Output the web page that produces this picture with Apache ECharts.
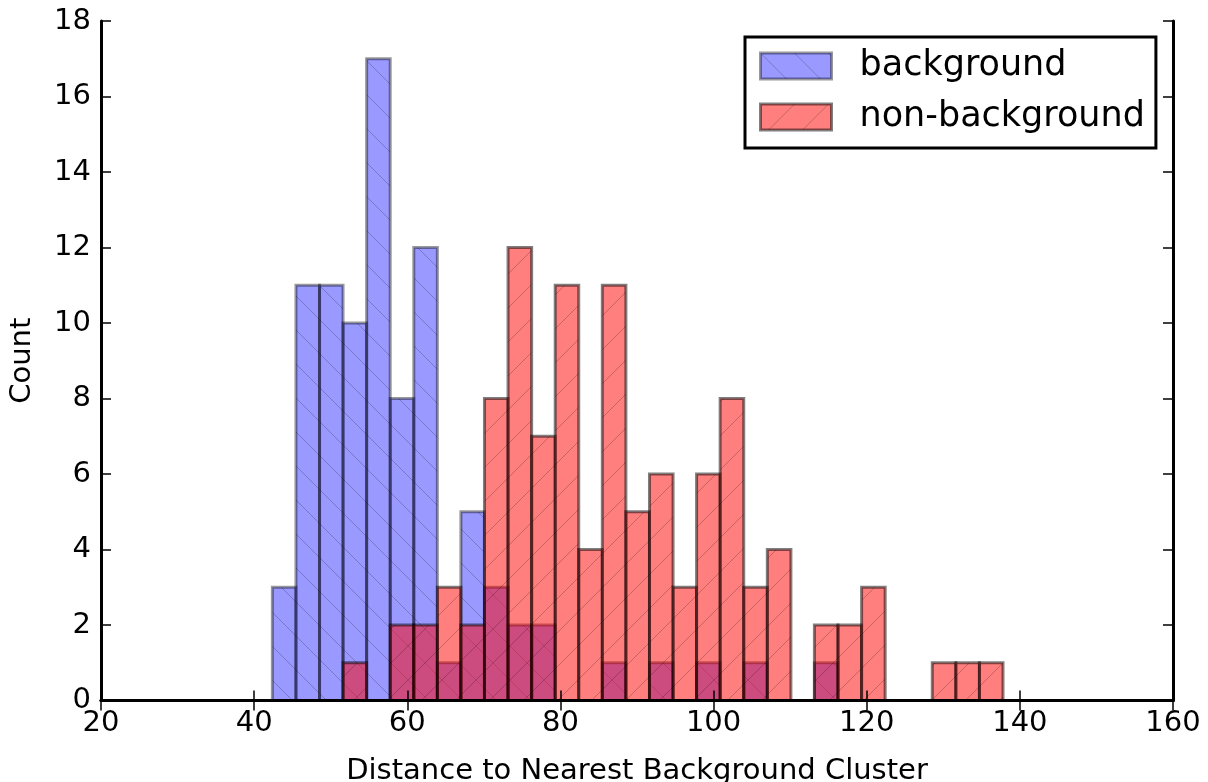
<!DOCTYPE html>
<html>
<head>
<meta charset="utf-8">
<script src="https://cdn.jsdelivr.net/npm/echarts@6/dist/echarts.min.js"></script>
<style>
  html, body { margin: 0; padding: 0; background: #fff; }
  #main { width: 1208px; height: 782px; }
</style>
</head>
<body>
<div id="main"></div>
<script>
// shared histogram bin edges (31 bins)
var binEdges = [42.38, 45.46, 48.54, 51.61, 54.69, 57.77, 60.85, 63.93, 67.00, 70.08,
    73.16, 76.24, 79.32, 82.39, 85.47, 88.55, 91.63, 94.71, 97.78, 100.86,
    103.94, 107.02, 110.10, 113.17, 116.25, 119.33, 122.41, 125.49, 128.56, 131.64,
    134.72, 137.80];
var backgroundCounts = [3, 11, 11, 10, 17, 8, 12, 1, 5, 3, 2, 2, 0, 0, 1, 0, 1, 0, 1, 0,
    1, 0, 0, 1, 0, 0, 0, 0, 0, 0, 0];
var nonBackgroundCounts = [0, 0, 0, 1, 0, 2, 2, 3, 2, 8, 12, 7, 11, 4, 11, 5, 6, 3, 6, 8,
    3, 4, 0, 2, 2, 3, 0, 0, 1, 1, 1];
var xTicks = [20, 40, 60, 80, 100, 120, 140, 160];
var yTicks = [0, 2, 4, 6, 8, 10, 12, 14, 16, 18];

var fontName = 'DejaVu Sans';

function makeHatch(fillColor, forward) {
    var s = 34;
    var c = document.createElement('canvas');
    c.width = s;
    c.height = s;
    var ctx = c.getContext('2d');
    ctx.fillStyle = fillColor;
    ctx.fillRect(0, 0, s, s);
    ctx.strokeStyle = 'rgba(0,0,0,0.22)';
    ctx.lineWidth = 1;
    ctx.beginPath();
    for (var k = -1; k <= 2; k++) {
        if (forward) {
            ctx.moveTo(-1, k * s + 1);
            ctx.lineTo(s + 1, k * s - s - 1);
        } else {
            ctx.moveTo(-1, k * s - 1);
            ctx.lineTo(s + 1, k * s + s + 1);
        }
    }
    ctx.stroke();
    return { image: c, repeat: 'repeat' };
}

var bluePattern = makeHatch('rgba(0,0,255,0.4)', false);
var redPattern = makeHatch('rgba(255,0,0,0.5)', true);
var blueEdge = 'rgba(0,0,0,0.4)';
var redEdge = 'rgba(0,0,0,0.5)';

function buildData(counts) {
    var out = [];
    for (var i = 0; i < counts.length; i++) {
        if (counts[i] > 0) {
            out.push([binEdges[i], binEdges[i + 1], counts[i]]);
        }
    }
    return out;
}

function barRenderer(fill, edge) {
    return function(params, api) {
        var p0 = api.coord([api.value(0), 0]);
        var p1 = api.coord([api.value(1), api.value(2)]);
        return {
            type: 'rect',
            shape: { x: p0[0], y: p1[1], width: p1[0] - p0[0], height: p0[1] - p1[1] },
            style: { fill: fill, stroke: edge, lineWidth: 3 }
        };
    };
}

function axisBase(ticks, showLabel) {
    return {
        type: 'value',
        min: ticks[0],
        max: ticks[ticks.length - 1],
        interval: ticks[1] - ticks[0],
        z: 10,
        splitLine: { show: false },
        axisLine: { show: true, lineStyle: { color: '#000', width: 3 } },
        axisTick: { show: true, inside: true, length: 10, lineStyle: { color: '#000', width: 1.5 } },
        axisLabel: { show: showLabel, color: '#000', fontFamily: fontName, fontSize: 29 }
    };
}

var chart = echarts.init(document.getElementById('main'));

var xBottom = axisBase(xTicks, true);
xBottom.position = 'bottom';
xBottom.axisLabel.margin = 8;
xBottom.name = 'Distance to Nearest Background Cluster';
xBottom.nameLocation = 'middle';
xBottom.nameGap = 56;
xBottom.nameTextStyle = { color: '#000', fontFamily: fontName, fontSize: 29 };
var xTop = axisBase(xTicks, false);
xTop.position = 'top';

var yLeft = axisBase(yTicks, true);
yLeft.position = 'left';
yLeft.axisLabel.margin = 10;
yLeft.name = 'Count';
yLeft.nameLocation = 'middle';
yLeft.nameGap = 64;
yLeft.nameTextStyle = { color: '#000', fontFamily: fontName, fontSize: 29 };
var yRight = axisBase(yTicks, false);
yRight.position = 'right';

var option = {
    backgroundColor: '#fff',
    animation: false,
    grid: { left: 101, right: 35, top: 21, bottom: 81.5, containLabel: false, outerBoundsMode: 'none' },
    xAxis: [xBottom, xTop],
    yAxis: [yLeft, yRight],
    legend: {
        orient: 'vertical',
        left: 745,
        top: 37,
        padding: [9, 11, 11, 14],
        itemGap: 11,
        itemWidth: 71,
        itemHeight: 26,
        borderColor: '#000',
        borderWidth: 3,
        borderRadius: 0,
        backgroundColor: '#fff',
        selectedMode: false,
        z: 20,
        textStyle: { color: '#000', fontFamily: fontName, fontSize: 35, lineHeight: 40, padding: [0, 0, 0, 23] },
        data: [
            { name: 'background', icon: 'rect', itemStyle: { color: bluePattern, borderColor: blueEdge, borderWidth: 3 } },
            { name: 'non-background', icon: 'rect', itemStyle: { color: redPattern, borderColor: redEdge, borderWidth: 3 } }
        ]
    },
    series: [
        {
            type: 'custom',
            name: 'background',
            renderItem: barRenderer(bluePattern, blueEdge),
            itemStyle: { color: bluePattern, borderColor: blueEdge, borderWidth: 3 },
            encode: { x: [0, 1], y: 2 },
            data: buildData(backgroundCounts)
        },
        {
            type: 'custom',
            name: 'non-background',
            renderItem: barRenderer(redPattern, redEdge),
            itemStyle: { color: redPattern, borderColor: redEdge, borderWidth: 3 },
            encode: { x: [0, 1], y: 2 },
            data: buildData(nonBackgroundCounts)
        }
    ]
};
chart.setOption(option);
</script>
</body>
</html>
